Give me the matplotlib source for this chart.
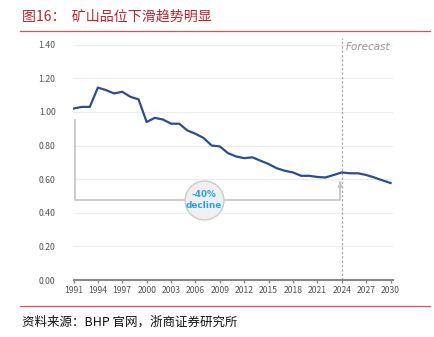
import matplotlib
matplotlib.use("Agg")
import matplotlib.pyplot as plt
from matplotlib.lines import Line2D

plt.rcParams['font.family'] = ['Noto Sans CJK SC', 'DejaVu Sans']

years = list(range(1991, 2031))
grade = [1.02, 1.03, 1.03, 1.145, 1.13, 1.11, 1.12, 1.09, 1.075, 0.94,
         0.965, 0.955, 0.93, 0.93, 0.89, 0.87, 0.845, 0.80, 0.795, 0.755,
         0.735, 0.725, 0.73, 0.71, 0.69, 0.665, 0.65, 0.64, 0.62, 0.62,
         0.613, 0.61, 0.625, 0.64, 0.635, 0.635, 0.625, 0.61, 0.593, 0.577]
xticks = list(range(1991, 2031, 3))
yticks = [0.0, 0.2, 0.4, 0.6, 0.8, 1.0, 1.2, 1.4]
forecast_year = 2024
title = "图16：  矿山品位下滑趋势明显"
source = "资料来源：BHP 官网，浙商证券研究所"

fig = plt.figure(figsize=(4.35, 3.37), dpi=100)
ax = fig.add_axes([73.5/435, 1-280/337, (393-73.5)/435, (280-38)/337])

ax.plot(years, grade, color='#2c4d8e', lw=1.6, zorder=4)
ax.set_xlim(1991, 2030.3)
ax.set_ylim(0, 1.44)
ax.set_yticks(yticks)
ax.set_yticklabels([f"{v:.2f}" for v in yticks])
ax.set_xticks(xticks)
ax.set_xticklabels([str(x) for x in xticks])
ax.grid(axis='y', color='#ececec', lw=0.8)
ax.set_axisbelow(True)
for s in ['top', 'right', 'left']:
    ax.spines[s].set_visible(False)
ax.spines['bottom'].set_color('#888888')
ax.spines['bottom'].set_linewidth(1.5)
ax.tick_params(axis='y', length=0, labelsize=6.3, labelcolor='#555555', pad=13)
ax.tick_params(axis='x', length=2.5, width=1, color='#888888', labelsize=6.2,
               labelcolor='#555555', pad=2)

# forecast line
ax.axvline(forecast_year, color='#aaaaaa', lw=0.9, ls=(0, (2, 1.5)), zorder=2)
ax.text(forecast_year + 0.5, 1.385, "Forecast", style='italic', color='#999999',
        fontsize=7.5, family='DejaVu Sans', va='center', ha='left')

# bracket annotation
ax.plot([1991.2, 1991.2, 2023.8, 2023.8], [0.95, 0.476, 0.476, 0.585],
        color='#c4c4c4', lw=1.2, zorder=3)
ax.annotate("", xy=(2023.8, 0.60), xytext=(2023.8, 0.56),
            arrowprops=dict(arrowstyle='-|>', color='#c4c4c4', lw=1.2,
                            mutation_scale=6), zorder=3)
ax.scatter([2007.05], [0.476], s=(28)**2, facecolor='#f0f0f0',
           edgecolor='#cccccc', linewidth=1.0, zorder=5)
ax.text(2007.05, 0.476, "-40%\ndecline", ha='center', va='center',
        fontsize=6.4, color='#2ea3dc', fontweight='bold', family='DejaVu Sans',
        linespacing=1.2, zorder=6)

# title and source
fig.text(22/435, 1-17/337, title, color='#b8262d', fontsize=10.1, va='center', ha='left')
fig.add_artist(Line2D([20/435, 430/435], [1-31/337, 1-31/337], color='#d9534f', lw=0.9))
fig.add_artist(Line2D([20/435, 430/435], [1-306/337, 1-306/337], color='#d9534f', lw=0.9))
fig.text(22/435, 1-322/337, source, color='#111111', fontsize=9, va='center', ha='left')

fig.savefig("out.png", dpi=100)
